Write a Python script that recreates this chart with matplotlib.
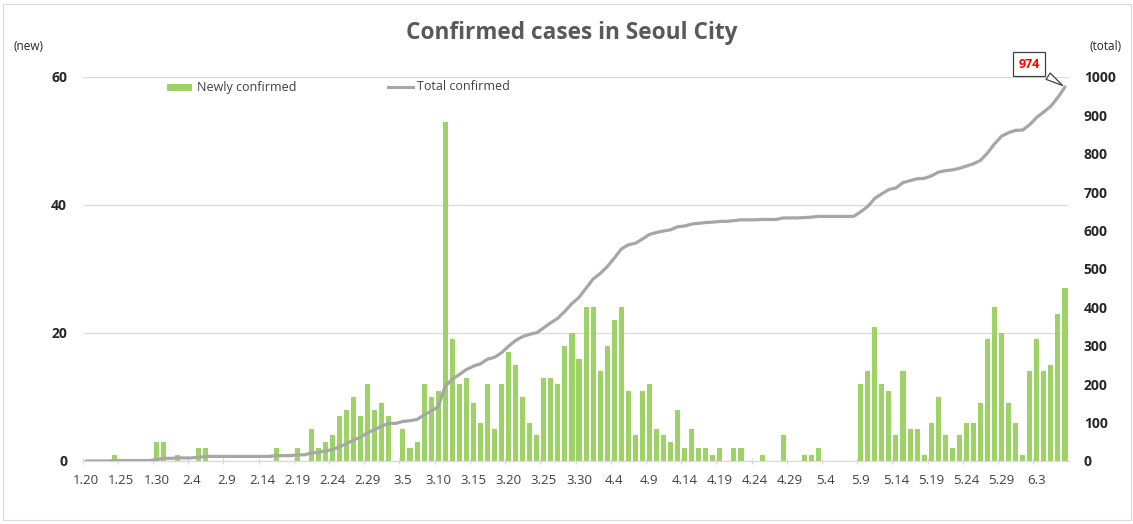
import matplotlib
matplotlib.use('Agg')
import matplotlib.pyplot as plt
from matplotlib.patches import Rectangle
from matplotlib.lines import Line2D
import pandas as pd

plt.rcParams['font.family'] = ['Open Sans', 'DejaVu Sans']

# ---- data ----
dates = pd.date_range('2020-01-20', '2020-06-07')
categories = [f"{d.month}.{d.day}" for d in dates]

new_cases = [
    0, 0, 0, 0, 1, 0, 0, 0, 0, 0,            # 1.20 - 1.29
    3, 3, 0, 1, 0, 0, 2, 2, 0, 0,            # 1.30 - 2.8
    0, 0, 0, 0, 0, 0, 0, 2, 0, 0,            # 2.9 - 2.18
    2, 0, 5, 2, 3, 4, 7, 8, 10, 7,           # 2.19 - 2.28
    12, 8, 9, 7, 0, 5, 2, 3, 12, 10,         # 2.29 - 3.9
    11, 53, 19, 12, 13, 9, 6, 12, 5, 12,     # 3.10 - 3.19
    17, 15, 10, 6, 4, 13, 13, 12, 18, 20,    # 3.20 - 3.29
    16, 24, 24, 14, 18, 22, 24, 11, 4, 11,   # 3.30 - 4.8
    12, 5, 4, 3, 8, 2, 5, 2, 2, 1,           # 4.9 - 4.18
    2, 0, 2, 2, 0, 0, 1, 0, 0, 4,            # 4.19 - 4.28
    0, 0, 1, 1, 2, 0, 0, 0, 0, 0,            # 4.29 - 5.8
    12, 14, 21, 12, 11, 4, 14, 5, 5, 1,      # 5.9 - 5.18
    6, 10, 4, 2, 4, 6, 6, 9, 19, 24,         # 5.19 - 5.28
    20, 9, 6, 1, 14, 19, 14, 15, 23, 27,     # 5.29 - 6.7
]

total_cases = [
    0, 0, 0, 0, 1, 1, 1, 1, 1, 1,
    4, 7, 7, 8, 8, 8, 10, 12, 12, 12,
    12, 12, 12, 12, 12, 12, 12, 14, 14, 14,
    16, 16, 21, 23, 26, 30, 37, 45, 55, 62,
    74, 82, 91, 98, 98, 103, 105, 108, 120, 130,
    141, 194, 213, 225, 238, 247, 253, 265, 270, 282,
    299, 314, 324, 330, 334, 347, 360, 372, 390, 410,
    426, 450, 474, 488, 506, 528, 552, 563, 567, 578,
    590, 595, 599, 602, 610, 612, 617, 619, 621, 622,
    624, 624, 626, 628, 628, 628, 629, 629, 629, 633,
    633, 633, 634, 635, 637, 637, 637, 637, 637, 637,
    649, 663, 684, 696, 707, 711, 725, 730, 735, 736,
    742, 752, 756, 758, 762, 768, 774, 783, 802, 826,
    846, 855, 861, 862, 876, 895, 909, 924, 947, 974,
]

left_ticks = [0, 20, 40, 60]
right_ticks = [0, 100, 200, 300, 400, 500, 600, 700, 800, 900, 1000]
label_step = 5

title = "Confirmed cases in Seoul City"
bar_label = "Newly confirmed"
line_label = "Total confirmed"
last_label = "974"

# ---- styling ----
BAR_C = '#9DD267'
LINE_C = '#A6A6A6'
TXT_C = '#404040'
GRID_C = '#D9D9D9'

W, H = 1133, 524
fig = plt.figure(figsize=(W / 100, H / 100), dpi=100)
fig.patch.set_facecolor('white')

def fx(px):
    return px / W

def fy(py):
    return 1 - py / H

x_left, x_right = 82.5, 1068.5
y_top, y_bot = 77, 461
ax = fig.add_axes([fx(x_left), fy(y_bot), fx(x_right - x_left), (y_bot - y_top) / H])
ax2 = ax.twinx()

x = list(range(len(categories)))
ax.bar(x, new_cases, width=0.72, color=BAR_C, zorder=2)
ax.set_ylim(0, 60)
ax.set_xlim(-0.5, len(categories) - 0.5)
ax.set_yticks(left_ticks)
ax.yaxis.grid(True, color=GRID_C, lw=0.9, zorder=0)
ax.set_axisbelow(True)

ax2.plot(x, total_cases, color=LINE_C, lw=2.3, solid_capstyle='round', zorder=3)
ax2.set_ylim(0, 1000)
ax2.set_yticks(right_ticks)

for a in (ax, ax2):
    for s in a.spines.values():
        s.set_visible(False)
ax.spines['bottom'].set_visible(True)
ax.spines['bottom'].set_color(GRID_C)
ax.spines['bottom'].set_linewidth(0.9)

xt = list(range(0, len(categories), label_step))
ax.set_xticks(xt)
ax.set_xticklabels([categories[i] for i in xt], fontsize=9.5, color=TXT_C)
ax.set_xticks([i - 0.5 for i in xt], minor=True)
ax.tick_params(axis='x', which='major', length=0, pad=9)
ax.tick_params(axis='x', which='minor', length=4, color=GRID_C, width=0.9, direction='inout')

ax.tick_params(axis='y', length=0, pad=11, labelsize=10, labelcolor='#262626')
for t in ax.get_yticklabels():
    t.set_fontweight('bold')
ax2.tick_params(axis='y', length=0, pad=11, labelsize=10, labelcolor='#262626')
for t in ax2.get_yticklabels():
    t.set_fontweight('bold')

# title and axis unit labels
fig.text(fx(572), fy(33), title, ha='center', va='center', fontsize=16.3,
         fontweight='bold', color='#595959')
fig.text(fx(14), fy(47), "(new)", ha='left', va='center', fontsize=8.5, color='#262626')
fig.text(fx(1090), fy(46), "(total)", ha='left', va='center', fontsize=8.5, color='#262626')

# legend
fig.add_artist(Rectangle((fx(167), fy(91)), fx(25), 7 / H, transform=fig.transFigure,
                         color=BAR_C, lw=0))
fig.text(fx(197), fy(87), bar_label, ha='left', va='center', fontsize=9, color=TXT_C)
fig.add_artist(Line2D([fx(388), fx(413)], [fy(87), fy(87)], transform=fig.transFigure,
                      color=LINE_C, lw=2.2))
fig.text(fx(417), fy(87), line_label, ha='left', va='center', fontsize=9, color=TXT_C)

# callout for the last total
ax2.annotate(last_label, xy=(x[-1], total_cases[-1]), xytext=(fx(1029), fy(64)),
             textcoords='figure fraction', ha='center', va='center',
             fontsize=9, fontweight='bold', color='#FF0000',
             bbox=dict(boxstyle='square,pad=0.45', fc='white', ec='#404040', lw=0.9),
             arrowprops=dict(arrowstyle='wedge,tail_width=0.6,shrink_factor=0.5',
                             fc='white', ec='#404040', lw=0.9),
             zorder=5)

# outer border
fig.add_artist(Rectangle((fx(3), fy(520)), fx(1128), 516 / H, transform=fig.transFigure,
                         fill=False, ec='#D9D9D9', lw=0.8))

fig.savefig('out.png', dpi=100, facecolor='white')
